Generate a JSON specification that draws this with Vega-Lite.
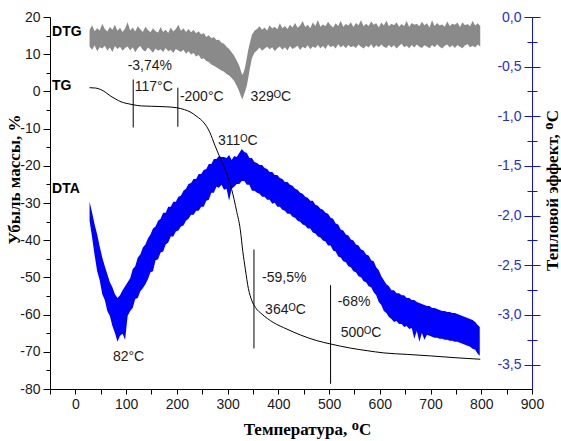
{
"$schema": "https://vega.github.io/schema/vega-lite/v6.json",
"width": 482, "height": 372,
"autosize": {"type": "none"},
"padding": {"left": 50, "top": 17, "right": 29, "bottom": 52},
"background": "white",
"config": {"view": {"stroke": null}, "font": "Liberation Sans"},
"datasets": {
"dta": [
{"t":28,"hi":-1.86,"lo":-2.05},{"t":33,"hi":-1.97,"lo":-2.22},{"t":38,"hi":-2.09,"lo":-2.40},{"t":43,"hi":-2.19,"lo":-2.56},{"t":48,"hi":-2.31,"lo":-2.65},{"t":53,"hi":-2.42,"lo":-2.79},{"t":58,"hi":-2.51,"lo":-2.85},{"t":63,"hi":-2.59,"lo":-2.96},{"t":68,"hi":-2.67,"lo":-3.01},{"t":73,"hi":-2.72,"lo":-3.11},{"t":78,"hi":-2.79,"lo":-3.18},{"t":83,"hi":-2.83,"lo":-3.27},{"t":88,"hi":-2.80,"lo":-3.21},{"t":93,"hi":-2.75,"lo":-3.19},{"t":98,"hi":-2.71,"lo":-3.25},{"t":103,"hi":-2.67,"lo":-3.01},{"t":108,"hi":-2.63,"lo":-2.96},{"t":113,"hi":-2.54,"lo":-2.93},{"t":118,"hi":-2.51,"lo":-2.84},{"t":123,"hi":-2.42,"lo":-2.83},{"t":128,"hi":-2.39,"lo":-2.76},{"t":133,"hi":-2.32,"lo":-2.73},{"t":138,"hi":-2.29,"lo":-2.69},{"t":143,"hi":-2.23,"lo":-2.64},{"t":148,"hi":-2.19,"lo":-2.57},{"t":153,"hi":-2.13,"lo":-2.56},{"t":158,"hi":-2.11,"lo":-2.45},{"t":163,"hi":-2.05,"lo":-2.44},{"t":168,"hi":-2.03,"lo":-2.37},{"t":173,"hi":-1.97,"lo":-2.36},{"t":178,"hi":-1.97,"lo":-2.29},{"t":183,"hi":-1.91,"lo":-2.27},{"t":188,"hi":-1.91,"lo":-2.21},{"t":193,"hi":-1.86,"lo":-2.21},{"t":198,"hi":-1.86,"lo":-2.16},{"t":203,"hi":-1.81,"lo":-2.15},{"t":208,"hi":-1.80,"lo":-2.11},{"t":213,"hi":-1.75,"lo":-2.10},{"t":218,"hi":-1.73,"lo":-2.05},{"t":223,"hi":-1.68,"lo":-2.03},{"t":228,"hi":-1.67,"lo":-1.99},{"t":233,"hi":-1.63,"lo":-1.99},{"t":238,"hi":-1.63,"lo":-1.95},{"t":243,"hi":-1.58,"lo":-1.95},{"t":248,"hi":-1.58,"lo":-1.91},{"t":253,"hi":-1.54,"lo":-1.91},{"t":258,"hi":-1.53,"lo":-1.85},{"t":263,"hi":-1.48,"lo":-1.84},{"t":268,"hi":-1.48,"lo":-1.77},{"t":273,"hi":-1.43,"lo":-1.77},{"t":278,"hi":-1.43,"lo":-1.71},{"t":283,"hi":-1.40,"lo":-1.72},{"t":288,"hi":-1.41,"lo":-1.69},{"t":293,"hi":-1.41,"lo":-1.74},{"t":298,"hi":-1.42,"lo":-1.73},{"t":303,"hi":-1.39,"lo":-1.85},{"t":308,"hi":-1.44,"lo":-1.73},{"t":313,"hi":-1.40,"lo":-1.71},{"t":318,"hi":-1.41,"lo":-1.68},{"t":323,"hi":-1.37,"lo":-1.68},{"t":328,"hi":-1.33,"lo":-1.65},{"t":333,"hi":-1.36,"lo":-1.65},{"t":338,"hi":-1.37,"lo":-1.69},{"t":343,"hi":-1.42,"lo":-1.69},{"t":348,"hi":-1.42,"lo":-1.75},{"t":353,"hi":-1.46,"lo":-1.75},
{"t":358,"hi":-1.47,"lo":-1.77},{"t":363,"hi":-1.49,"lo":-1.78},{"t":368,"hi":-1.49,"lo":-1.81},{"t":373,"hi":-1.52,"lo":-1.81},{"t":378,"hi":-1.53,"lo":-1.84},{"t":383,"hi":-1.56,"lo":-1.84},{"t":388,"hi":-1.56,"lo":-1.88},{"t":393,"hi":-1.59,"lo":-1.87},{"t":398,"hi":-1.59,"lo":-1.91},{"t":403,"hi":-1.62,"lo":-1.91},{"t":408,"hi":-1.63,"lo":-1.94},{"t":413,"hi":-1.66,"lo":-1.95},{"t":418,"hi":-1.66,"lo":-1.98},{"t":423,"hi":-1.69,"lo":-1.98},{"t":428,"hi":-1.70,"lo":-2.01},{"t":433,"hi":-1.73,"lo":-2.02},{"t":438,"hi":-1.74,"lo":-2.05},{"t":443,"hi":-1.77,"lo":-2.06},{"t":448,"hi":-1.78,"lo":-2.09},{"t":453,"hi":-1.81,"lo":-2.10},{"t":458,"hi":-1.82,"lo":-2.13},{"t":463,"hi":-1.85,"lo":-2.13},{"t":468,"hi":-1.85,"lo":-2.17},{"t":473,"hi":-1.89,"lo":-2.18},{"t":478,"hi":-1.90,"lo":-2.21},{"t":483,"hi":-1.93,"lo":-2.22},{"t":488,"hi":-1.94,"lo":-2.25},{"t":493,"hi":-1.97,"lo":-2.26},{"t":498,"hi":-1.98,"lo":-2.30},{"t":503,"hi":-2.02,"lo":-2.30},{"t":508,"hi":-2.03,"lo":-2.35},{"t":513,"hi":-2.08,"lo":-2.36},{"t":518,"hi":-2.09,"lo":-2.41},{"t":523,"hi":-2.14,"lo":-2.42},{"t":528,"hi":-2.15,"lo":-2.46},{"t":533,"hi":-2.19,"lo":-2.47},{"t":538,"hi":-2.20,"lo":-2.51},{"t":543,"hi":-2.24,"lo":-2.52},{"t":548,"hi":-2.25,"lo":-2.56},{"t":553,"hi":-2.29,"lo":-2.57},{"t":558,"hi":-2.30,"lo":-2.61},{"t":563,"hi":-2.34,"lo":-2.62},{"t":568,"hi":-2.35,"lo":-2.66},{"t":573,"hi":-2.39,"lo":-2.67},{"t":578,"hi":-2.40,"lo":-2.71},{"t":583,"hi":-2.45,"lo":-2.72},{"t":588,"hi":-2.46,"lo":-2.77},{"t":593,"hi":-2.52,"lo":-2.80},{"t":598,"hi":-2.55,"lo":-2.87},{"t":603,"hi":-2.61,"lo":-2.90},{"t":608,"hi":-2.65,"lo":-2.96},{"t":613,"hi":-2.69,"lo":-2.98},{"t":618,"hi":-2.71,"lo":-3.02},{"t":623,"hi":-2.75,"lo":-3.04},{"t":628,"hi":-2.75,"lo":-3.07},{"t":633,"hi":-2.78,"lo":-3.06},{"t":638,"hi":-2.78,"lo":-3.09},{"t":643,"hi":-2.80,"lo":-3.09},{"t":648,"hi":-2.80,"lo":-3.12},{"t":653,"hi":-2.83,"lo":-3.11},{"t":658,"hi":-2.83,"lo":-3.14},{"t":663,"hi":-2.85,"lo":-3.13},{"t":668,"hi":-2.85,"lo":-3.24},{"t":673,"hi":-2.87,"lo":-3.16},{"t":678,"hi":-2.88,"lo":-3.27},{"t":683,"hi":-2.89,"lo":-3.18},{"t":688,"hi":-2.90,"lo":-3.25},{"t":693,"hi":-2.91,"lo":-3.20},{"t":698,"hi":-2.91,"lo":-3.21},{"t":703,"hi":-2.93,"lo":-3.22},{"t":708,"hi":-2.93,"lo":-3.23},{"t":713,"hi":-2.94,"lo":-3.23},{"t":718,"hi":-2.95,"lo":-3.24},{"t":723,"hi":-2.96,"lo":-3.24},{"t":728,"hi":-2.96,"lo":-3.25},{"t":733,"hi":-2.97,"lo":-3.25},{"t":738,"hi":-2.97,"lo":-3.26},{"t":743,"hi":-2.98,"lo":-3.26},{"t":748,"hi":-2.98,"lo":-3.27},{"t":753,"hi":-2.99,"lo":-3.27},{"t":758,"hi":-3.00,"lo":-3.28},{"t":763,"hi":-3.01,"lo":-3.29},{"t":768,"hi":-3.02,"lo":-3.30},{"t":773,"hi":-3.03,"lo":-3.31},{"t":778,"hi":-3.04,"lo":-3.32},{"t":783,"hi":-3.05,"lo":-3.34},{"t":788,"hi":-3.07,"lo":-3.35},{"t":793,"hi":-3.10,"lo":-3.39},{"t":797,"hi":-3.12,"lo":-3.41}
],
"dtg": [
{"t":28,"hi":16.5,"lo":12.0},{"t":33,"hi":17.8,"lo":11.2},{"t":38,"hi":16.2,"lo":12.4},{"t":43,"hi":17.0,"lo":10.8},{"t":48,"hi":16.4,"lo":11.9},{"t":53,"hi":18.2,"lo":11.5},{"t":58,"hi":16.8,"lo":12.3},{"t":63,"hi":16.1,"lo":11.0},{"t":68,"hi":17.3,"lo":11.8},{"t":73,"hi":16.6,"lo":10.6},{"t":78,"hi":17.9,"lo":12.2},{"t":83,"hi":16.3,"lo":11.4},{"t":88,"hi":17.1,"lo":12.0},{"t":93,"hi":16.0,"lo":10.9},{"t":98,"hi":16.9,"lo":11.7},{"t":103,"hi":18.6,"lo":12.1},{"t":108,"hi":16.4,"lo":11.0},{"t":113,"hi":17.2,"lo":11.9},{"t":118,"hi":16.1,"lo":10.5},{"t":123,"hi":17.5,"lo":11.6},{"t":128,"hi":16.7,"lo":12.2},{"t":133,"hi":16.0,"lo":11.1},{"t":138,"hi":17.4,"lo":10.7},{"t":143,"hi":16.5,"lo":11.8},{"t":148,"hi":15.9,"lo":11.2},{"t":153,"hi":17.0,"lo":10.4},{"t":158,"hi":16.2,"lo":11.5},{"t":163,"hi":15.8,"lo":10.9},{"t":168,"hi":17.3,"lo":11.3},{"t":173,"hi":16.0,"lo":10.6},{"t":178,"hi":16.6,"lo":11.7},{"t":183,"hi":15.7,"lo":10.8},{"t":188,"hi":17.2,"lo":11.2},{"t":193,"hi":16.1,"lo":10.3},{"t":198,"hi":16.8,"lo":11.4},{"t":203,"hi":17.9,"lo":11.0},{"t":208,"hi":16.3,"lo":10.6},{"t":213,"hi":17.0,"lo":11.2},{"t":218,"hi":16.0,"lo":10.1},{"t":223,"hi":16.8,"lo":10.8},{"t":228,"hi":15.9,"lo":9.9},{"t":233,"hi":16.5,"lo":10.3},{"t":238,"hi":15.6,"lo":9.4},{"t":243,"hi":16.2,"lo":9.8},{"t":248,"hi":15.3,"lo":8.7},{"t":253,"hi":15.7,"lo":8.9},{"t":258,"hi":14.6,"lo":8.2},{"t":263,"hi":15.1,"lo":7.9},{"t":268,"hi":14.3,"lo":7.2},{"t":273,"hi":14.6,"lo":6.9},{"t":278,"hi":13.8,"lo":6.5},{"t":283,"hi":13.9,"lo":6.0},{"t":288,"hi":13.1,"lo":5.6},{"t":293,"hi":12.8,"lo":5.3},{"t":298,"hi":12.0,"lo":4.7},{"t":303,"hi":11.4,"lo":4.3},{"t":308,"hi":10.5,"lo":3.6},{"t":313,"hi":9.6,"lo":2.8},{"t":318,"hi":8.3,"lo":1.5},{"t":323,"hi":6.9,"lo":0.0},{"t":326,"hi":5.6,"lo":-1.2},{"t":329,"hi":4.4,"lo":-2.2},{"t":332,"hi":5.2,"lo":-1.0},{"t":335,"hi":6.8,"lo":0.2},{"t":338,"hi":9.1,"lo":1.6},{"t":341,"hi":11.3,"lo":3.8},{"t":344,"hi":13.0,"lo":6.2},{"t":348,"hi":15.2,"lo":8.9},{"t":353,"hi":16.3,"lo":10.4},{"t":358,"hi":16.8,"lo":11.0},{"t":363,"hi":17.5,"lo":11.8},{"t":368,"hi":16.6,"lo":10.9},{"t":373,"hi":17.2,"lo":11.5},{"t":378,"hi":16.4,"lo":12.0},{"t":383,"hi":17.8,"lo":11.3},{"t":388,"hi":16.9,"lo":11.9},{"t":393,"hi":17.4,"lo":10.8},{"t":398,"hi":16.7,"lo":11.6},{"t":403,"hi":18.3,"lo":12.1},{"t":408,"hi":17.0,"lo":11.2},{"t":413,"hi":17.6,"lo":11.9},{"t":418,"hi":16.8,"lo":11.0},{"t":423,"hi":17.9,"lo":12.2},{"t":428,"hi":17.2,"lo":11.4},{"t":433,"hi":18.4,"lo":11.8},{"t":438,"hi":17.1,"lo":12.3},{"t":443,"hi":17.7,"lo":11.1},{"t":448,"hi":18.9,"lo":12.0},{"t":453,"hi":17.3,"lo":11.5},{"t":458,"hi":17.9,"lo":12.4},{"t":463,"hi":17.0,"lo":11.3},{"t":468,"hi":18.5,"lo":12.1},{"t":473,"hi":17.6,"lo":11.7},{"t":478,"hi":19.2,"lo":12.5},{"t":483,"hi":17.4,"lo":11.6},{"t":488,"hi":18.0,"lo":12.2},{"t":493,"hi":17.5,"lo":11.4},{"t":498,"hi":18.7,"lo":12.6},{"t":503,"hi":17.8,"lo":11.9},{"t":508,"hi":17.2,"lo":12.3},{"t":513,"hi":18.3,"lo":11.5},{"t":518,"hi":17.6,"lo":12.7},{"t":523,"hi":19.0,"lo":11.8},{"t":528,"hi":17.4,"lo":12.4},{"t":533,"hi":18.1,"lo":11.6},{"t":538,"hi":17.7,"lo":12.5},{"t":543,"hi":18.6,"lo":11.9},{"t":548,"hi":17.3,"lo":12.2},{"t":553,"hi":18.4,"lo":11.7},{"t":558,"hi":17.8,"lo":12.6},{"t":563,"hi":19.1,"lo":12.0},{"t":568,"hi":17.5,"lo":11.5},{"t":573,"hi":18.2,"lo":12.3},{"t":578,"hi":17.6,"lo":11.8},{"t":583,"hi":18.8,"lo":12.7},{"t":588,"hi":17.9,"lo":11.6},{"t":593,"hi":18.3,"lo":12.4},{"t":598,"hi":17.2,"lo":11.9},{"t":603,"hi":18.5,"lo":12.6},{"t":608,"hi":17.7,"lo":12.0},{"t":613,"hi":19.0,"lo":11.7},{"t":618,"hi":17.5,"lo":12.5},{"t":623,"hi":18.2,"lo":11.8},{"t":628,"hi":17.8,"lo":12.4},{"t":633,"hi":18.6,"lo":11.5},{"t":638,"hi":17.4,"lo":12.2},{"t":643,"hi":18.1,"lo":12.8},{"t":648,"hi":17.6,"lo":11.9},{"t":653,"hi":18.9,"lo":12.3},{"t":658,"hi":17.3,"lo":11.6},{"t":663,"hi":18.4,"lo":12.5},{"t":668,"hi":17.9,"lo":11.8},{"t":673,"hi":18.2,"lo":12.6},{"t":678,"hi":17.5,"lo":12.0},{"t":683,"hi":18.7,"lo":11.7},{"t":688,"hi":17.8,"lo":12.4},{"t":693,"hi":18.3,"lo":12.1},{"t":698,"hi":17.2,"lo":11.6},{"t":703,"hi":19.1,"lo":12.5},{"t":708,"hi":17.6,"lo":11.9},{"t":713,"hi":18.4,"lo":12.7},{"t":718,"hi":17.7,"lo":12.0},{"t":723,"hi":18.0,"lo":11.5},{"t":728,"hi":17.4,"lo":12.3},{"t":733,"hi":18.8,"lo":12.6},{"t":738,"hi":17.6,"lo":11.8},{"t":743,"hi":18.2,"lo":12.4},{"t":748,"hi":17.9,"lo":11.7},{"t":753,"hi":18.5,"lo":12.5},{"t":758,"hi":17.3,"lo":12.0},{"t":763,"hi":18.6,"lo":11.6},{"t":768,"hi":17.8,"lo":12.4},{"t":773,"hi":18.1,"lo":12.7},{"t":778,"hi":17.5,"lo":11.9},{"t":783,"hi":18.9,"lo":12.3},{"t":788,"hi":17.7,"lo":11.8},{"t":793,"hi":18.3,"lo":12.6},{"t":798,"hi":17.6,"lo":12.1}
],
"tg": [
{"t":28,"v":1.0},{"t":40,"v":0.9},{"t":50,"v":0.5},{"t":60,"v":-0.3},{"t":70,"v":-1.3},{"t":80,"v":-2.1},{"t":90,"v":-2.8},{"t":100,"v":-3.2},{"t":114,"v":-3.6},{"t":130,"v":-3.9},{"t":150,"v":-4.0},{"t":180,"v":-4.15},{"t":200,"v":-4.4},{"t":215,"v":-4.9},{"t":226,"v":-5.5},{"t":240,"v":-6.8},{"t":252,"v":-8.2},{"t":265,"v":-11.0},{"t":275,"v":-14.5},{"t":285,"v":-17.8},{"t":298,"v":-22.0},{"t":308,"v":-26.3},{"t":318,"v":-32.3},{"t":325,"v":-37.1},{"t":330,"v":-43.0},{"t":335,"v":-47.8},{"t":341,"v":-53.0},{"t":348,"v":-56.3},{"t":355,"v":-58.1},{"t":368,"v":-59.9},{"t":390,"v":-62.1},{"t":417,"v":-63.9},{"t":444,"v":-65.5},{"t":476,"v":-67.0},{"t":503,"v":-67.9},{"t":542,"v":-69.0},{"t":575,"v":-69.7},{"t":608,"v":-70.3},{"t":654,"v":-70.7},{"t":700,"v":-71.1},{"t":750,"v":-71.6},{"t":798,"v":-72.0}
],
"marks": [
{"t":114,"a":3.2,"b":-9.7},{"t":202,"a":1.0,"b":-9.5},{"t":352,"a":-42.5,"b":-69.1},{"t":503,"a":-52.1,"b":-78.6}
],
"notes": [
{"t":103,"v":6.9,"txt":"-3,74%"},{"t":117,"v":1.2,"txt":"117°C"},{"t":206,"v":-1.4,"txt":"-200°C"},{"t":345,"v":-1.5,"txt":"329ᴼC"},{"t":281,"v":-13.2,"txt":"311ᴼC"},{"t":368,"v":-50.2,"txt":"-59,5%"},{"t":374,"v":-58.8,"txt":"364ᴼC"},{"t":517,"v":-56.6,"txt":"-68%"},{"t":523,"v":-65.0,"txt":"500ᴼC"},{"t":74,"v":-71.4,"txt":"82°C"}
],
"names": [
{"t":-46,"v":16.1,"txt":"DTG"},{"t":-46,"v":1.4,"txt":"TG"},{"t":-46,"v":-26.3,"txt":"DTA"}
]
},
"encoding": {
"x": {"field": "t", "type": "quantitative", "scale": {"domain": [-50, 900], "nice": false},
"axis": {"values": [-50,0,50,100,150,200,250,300,350,400,450,500,550,600,650,700,750,800,850,900],
"labelExpr": "datum.value % 100 === 0 ? replace(datum.label, '−', '-') : ''",
"tickSize": 5, "labelPadding": 3, "labelFontSize": 14, "labelFont": "Liberation Sans", "labelColor": "#1a1a1a",
"domainColor": "#000000", "tickColor": "#000000", "grid": false, "labelFlush": false, "labelOverlap": false,
"title": "Температура, ᴼC", "titleFont": "Liberation Serif", "titleFontWeight": "bold", "titleFontSize": 17, "titleColor": "#000000", "titlePadding": 10, "titleX": 257}}
},
"layer": [
{
"data": {"name": "dtg"},
"mark": {"type": "area", "color": "#8a8a8a"},
"encoding": {
"y": {"field": "hi", "type": "quantitative", "scale": {"domain": [-80, 20], "nice": false, "zero": false},
"axis": {"orient": "left", "values": [-80,-70,-60,-50,-40,-30,-20,-10,0,10,20],
"labelExpr": "replace(datum.label, '−', '-')",
"tickSize": 7, "labelPadding": 3, "labelFontSize": 14, "labelFont": "Liberation Sans", "labelColor": "#1a1a1a",
"domainColor": "#000000", "tickColor": "#000000", "grid": false, "labelFlush": false, "labelOverlap": false,
"title": "Убыль массы, %", "titleFont": "Liberation Serif", "titleFontWeight": "bold", "titleFontSize": 17, "titleColor": "#000000", "titlePadding": -4, "titleY": 162}},
"y2": {"field": "lo"}
}
},
{
"data": {"name": "dtg"},
"mark": {"type": "area", "opacity": 0},
"encoding": {
"y": {"field": "hi", "type": "quantitative", "scale": {"domain": [-80, 20], "nice": false, "zero": false},
"axis": {"orient": "left", "values": [-75,-65,-55,-45,-35,-25,-15,-5,5,15], "labels": false, "domain": false, "grid": false,
"tickSize": 4, "tickColor": "#000000", "title": null}},
"y2": {"field": "lo"}
}
},
{
"data": {"name": "dta"},
"mark": {"type": "area", "color": "#0000ff"},
"encoding": {
"y": {"field": "hi", "type": "quantitative", "scale": {"domain": [-3.745, 0], "nice": false, "zero": false},
"axis": {"orient": "right", "values": [0,-0.5,-1,-1.5,-2,-2.5,-3,-3.5],
"labelExpr": "replace(replace(format(datum.value, '.1f'), '.', ','), '−', '-')",
"tickSize": 8, "labelPadding": -19, "labelAlign": "right", "labelFontSize": 14, "labelFont": "Liberation Sans",
"labelColor": "#2b2bd6", "domainColor": "#1010e0", "tickColor": "#1010e0", "grid": false, "labelFlush": false, "labelOverlap": false, "labelBound": false,
"title": "Тепловой эффект, ᴼC", "titleFont": "Liberation Serif", "titleFontWeight": "bold", "titleFontSize": 17, "titleColor": "#000000",
"titleAngle": 270, "titleBaseline": "top", "titlePadding": 4, "titleY": 173}},
"y2": {"field": "lo"}
}
},
{
"data": {"name": "dta"},
"mark": {"type": "area", "opacity": 0},
"encoding": {
"y": {"field": "hi", "type": "quantitative", "scale": {"domain": [-3.745, 0], "nice": false, "zero": false},
"axis": {"orient": "right", "values": [0,-0.5,-1,-1.5,-2,-2.5,-3,-3.5], "labels": false, "domain": false, "grid": false,
"tickSize": -8, "tickColor": "#1010e0", "title": null}},
"y2": {"field": "lo"}
}
},
{
"data": {"name": "dta"},
"mark": {"type": "area", "opacity": 0},
"encoding": {
"y": {"field": "hi", "type": "quantitative", "scale": {"domain": [-3.745, 0], "nice": false, "zero": false},
"axis": {"orient": "right", "values": [-0.25,-0.75,-1.25,-1.75,-2.25,-2.75,-3.25], "labels": false, "domain": false, "grid": false,
"tickSize": 5, "tickColor": "#1010e0", "title": null}},
"y2": {"field": "lo"}
}
},
{
"data": {"name": "dta"},
"mark": {"type": "area", "opacity": 0},
"encoding": {
"y": {"field": "hi", "type": "quantitative", "scale": {"domain": [-3.745, 0], "nice": false, "zero": false},
"axis": {"orient": "right", "values": [-0.25,-0.75,-1.25,-1.75,-2.25,-2.75,-3.25], "labels": false, "domain": false, "grid": false,
"tickSize": -5, "tickColor": "#1010e0", "title": null}},
"y2": {"field": "lo"}
}
},
{
"data": {"name": "tg"},
"mark": {"type": "line", "color": "#000000", "strokeWidth": 1, "interpolate": "monotone"},
"encoding": {
"y": {"field": "v", "type": "quantitative", "scale": {"domain": [-80, 20], "nice": false, "zero": false}, "axis": null}
}
},
{
"data": {"name": "marks"},
"mark": {"type": "rule", "color": "#000000", "strokeWidth": 1},
"encoding": {
"y": {"field": "a", "type": "quantitative", "scale": {"domain": [-80, 20], "nice": false, "zero": false}, "axis": null},
"y2": {"field": "b"}
}
},
{
"data": {"name": "notes"},
"mark": {"type": "text", "align": "left", "baseline": "middle", "fontSize": 14, "font": "Liberation Sans", "color": "#1a1a1a"},
"encoding": {
"y": {"field": "v", "type": "quantitative", "scale": {"domain": [-80, 20], "nice": false, "zero": false}, "axis": null},
"text": {"field": "txt"}
}
},
{
"data": {"name": "names"},
"mark": {"type": "text", "align": "left", "baseline": "middle", "fontSize": 14, "fontWeight": "bold", "font": "Liberation Sans", "color": "#000000"},
"encoding": {
"y": {"field": "v", "type": "quantitative", "scale": {"domain": [-80, 20], "nice": false, "zero": false}, "axis": null},
"text": {"field": "txt"}
}
}
],
"resolve": {"scale": {"y": "independent"}}
}
